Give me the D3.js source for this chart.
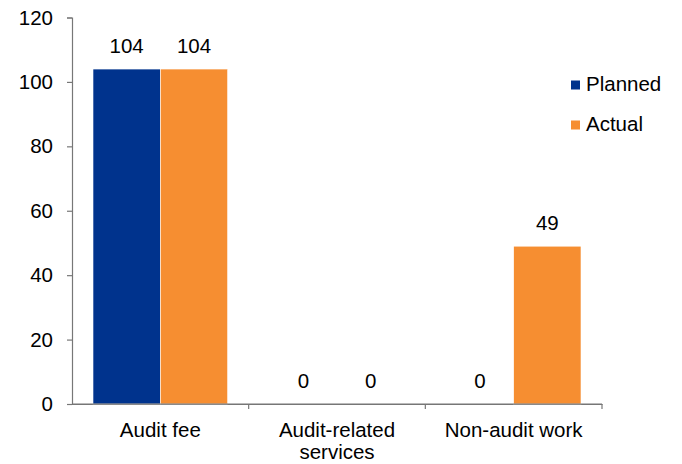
<!DOCTYPE html>
<html>
<head>
<meta charset="utf-8">
<script src="https://cdn.jsdelivr.net/npm/d3@7"></script>
<style>
  body { margin: 0; background: #fff; }
  text { font-family: "Liberation Sans", Arial, sans-serif; fill: #000; }
</style>
</head>
<body>
<svg id="chart" width="682" height="464"></svg>
<script>

// chart data
var categories = ["Audit fee", "Audit-related services", "Non-audit work"];
var categoryLines = [["Audit fee"], ["Audit-related", "services"], ["Non-audit work"]];
var seriesNames = ["Planned", "Actual"];
var planned = [104, 0, 0];
var actual = [104, 0, 49];
var yTicks = [0, 20, 40, 60, 80, 100, 120];
var colours = ["#00338D", "#F68E31"];

var fontSize = "20.5px";

var svg = d3.select("#chart");

// note: "top" is taken by window.top, so use plot* names
var plotLeft = 72, plotRight = 602, plotTop = 17.5, plotBottom = 404;

var x = d3.scaleBand()
			.domain(categories)
			.range([plotLeft, plotRight])
			.paddingInner(0)
			.paddingOuter(0);

var inner = d3.scaleBand()
			.domain(seriesNames)
			.range([21, x.bandwidth() - 21]);

var y = d3.scaleLinear()
			.domain([0, 120])
			.range([plotBottom, plotTop]);

// y axis
var yAxis = svg.append("g")
			.attr("transform", "translate(" + plotLeft + ",0)")
			.call(d3.axisLeft(y).tickValues(yTicks).tickSize(5).tickPadding(14));

yAxis.selectAll("text")
	.style("font-size", fontSize)
	.style("font-family", "'Liberation Sans', Arial, sans-serif")
	.attr("fill", "#000");

// x axis
var xAxis = svg.append("g")
			.attr("transform", "translate(0," + plotBottom + ")")
			.call(d3.axisBottom(x).tickSize(0).tickFormat(""));

xAxis.selectAll(".cat-tick")
	.data(categories).enter()
	.append("line")
	.attr("class", "cat-tick")
	.attr("x1", function(d) { return x(d) + x.bandwidth(); })
	.attr("x2", function(d) { return x(d) + x.bandwidth(); })
	.attr("y1", 0)
	.attr("y2", 5);

svg.selectAll(".domain, .tick line, .cat-tick")
	.attr("stroke", "#777")
	.attr("stroke-width", 1.2);

// category labels
var catLabels = svg.append("g")
			.selectAll("text")
			.data(categories).enter()
			.append("text")
			.attr("text-anchor", "middle")
			.style("font-size", fontSize)
			.attr("x", function(d) { return x(d) + x.bandwidth() / 2; })
			.attr("y", 437);

catLabels.selectAll("tspan")
	.data(function(d, i) { return categoryLines[i]; }).enter()
	.append("tspan")
	.attr("x", function() { return d3.select(this.parentNode).attr("x"); })
	.attr("dy", function(d, i) { return i === 0 ? 0 : 22; })
	.text(function(d) { return d; });

// bars
var series = [planned, actual];

series.forEach(function(values, s) {
	var g = svg.append("g");

	g.selectAll("rect")
		.data(values).enter()
		.append("rect")
		.attr("x", function(d, i) { return x(categories[i]) + inner(seriesNames[s]); })
		.attr("width", inner.bandwidth())
		.attr("y", function(d) { return y(d); })
		.attr("height", function(d) { return plotBottom - y(d); })
		.attr("fill", colours[s])
		.attr("stroke", "#fff")
		.attr("stroke-width", 0.6);

	g.selectAll("text")
		.data(values).enter()
		.append("text")
		.attr("text-anchor", "middle")
		.style("font-size", fontSize)
		.attr("x", function(d, i) { return x(categories[i]) + inner(seriesNames[s]) + inner.bandwidth() / 2; })
		.attr("y", function(d) { return y(d) - 16; })
		.text(function(d) { return d; });
});

// redraw the zero line above the bars
svg.append("line")
	.attr("x1", plotLeft).attr("x2", plotRight)
	.attr("y1", plotBottom).attr("y2", plotBottom)
	.attr("stroke", "#777")
	.attr("stroke-width", 1.2);

// legend
var legend = svg.append("g")
			.selectAll("g")
			.data(seriesNames).enter()
			.append("g")
			.attr("transform", function(d, i) { return "translate(571," + (80.5 + i * 40) + ")"; });

legend.append("rect")
	.attr("width", 9)
	.attr("height", 9)
	.attr("fill", function(d, i) { return colours[i]; });

legend.append("text")
	.attr("x", 15)
	.attr("y", 10.5)
	.style("font-size", fontSize)
	.text(function(d) { return d; });

</script>
</body>
</html>
